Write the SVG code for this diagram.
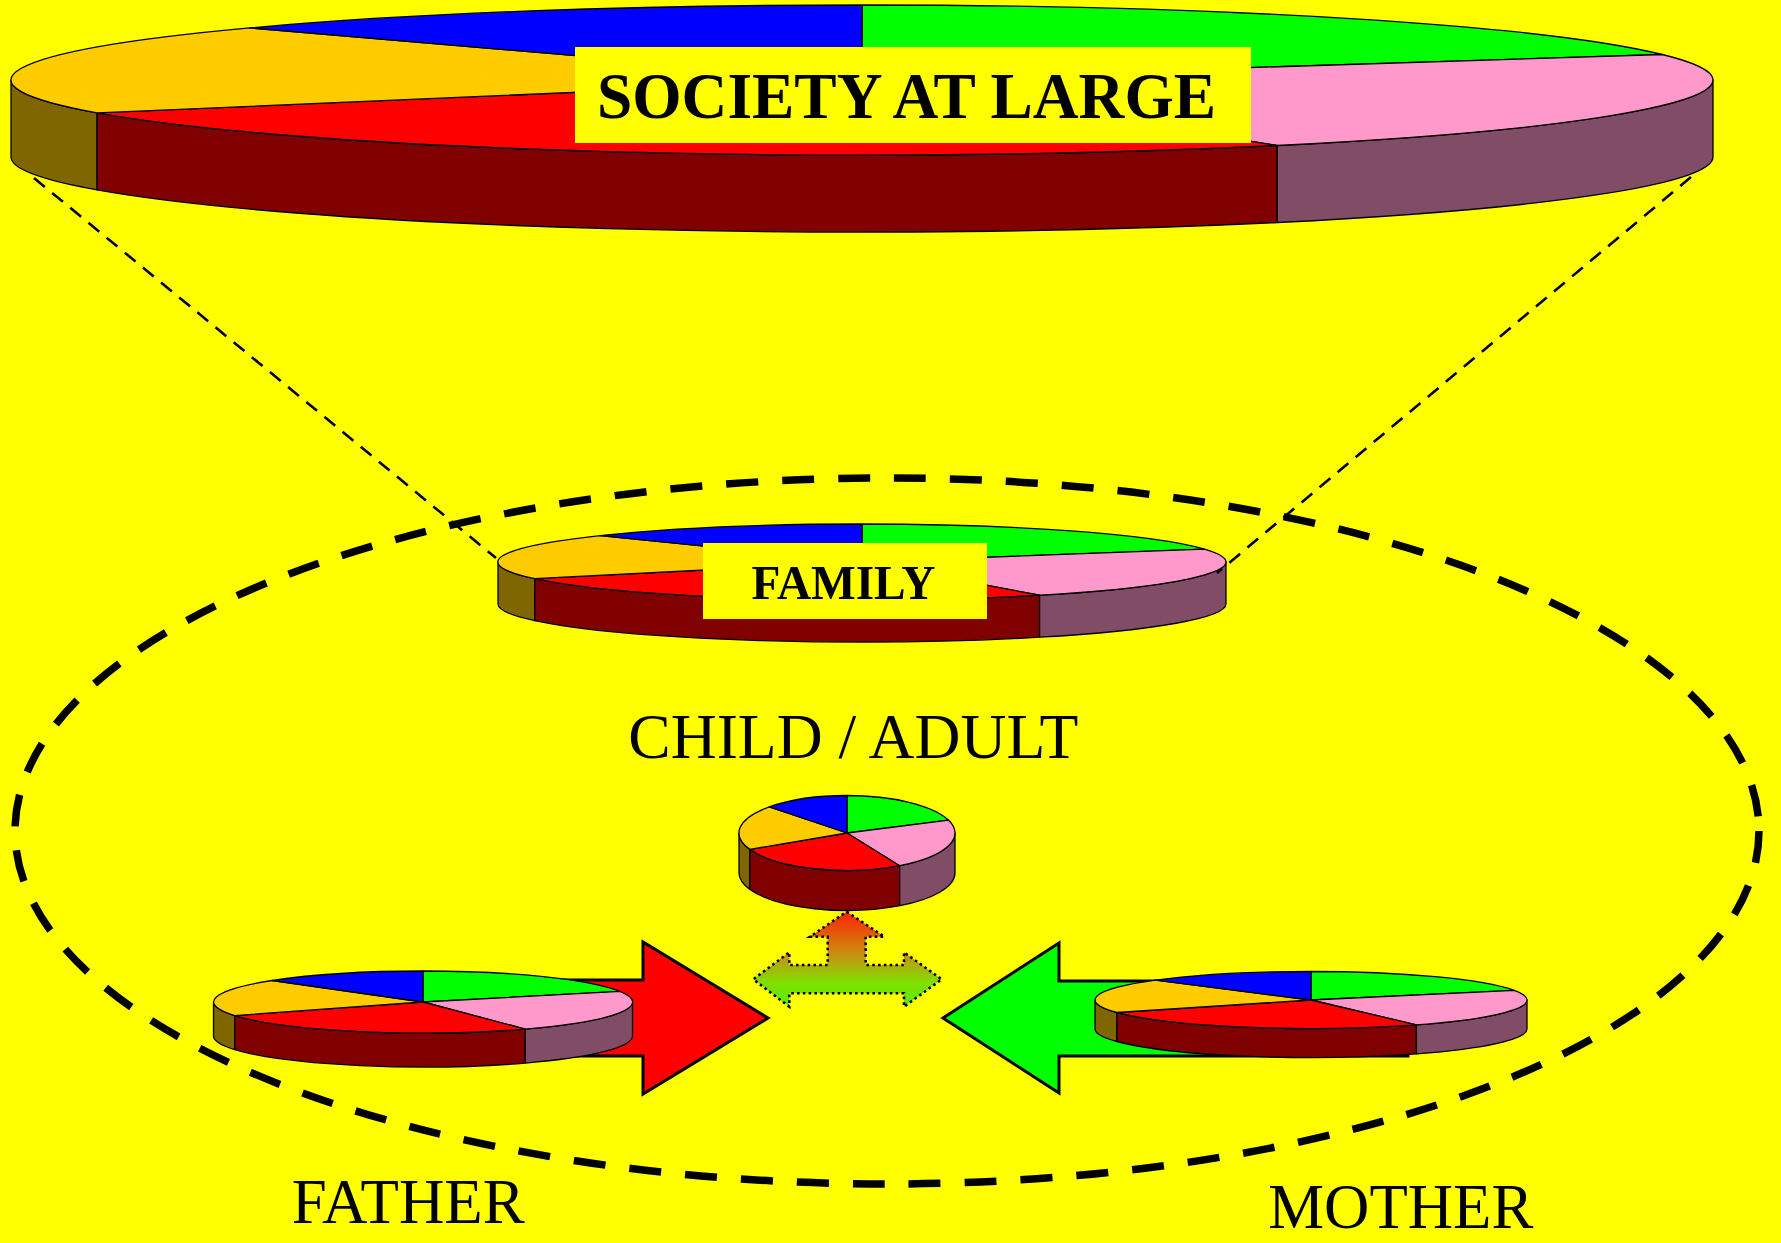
<svg xmlns="http://www.w3.org/2000/svg" width="1781" height="1243" viewBox="0 0 1781 1243">
<style>
.pie path{stroke:#000;stroke-width:1.3;stroke-linejoin:round}
.o{fill:#FFCC00}.b{fill:#0000FF}.g{fill:#00FF00}.p{fill:#FF99CC}.r{fill:#FF0000}
.os{fill:#806600}.rs{fill:#800000}.ps{fill:#804C66}
.lbl{font-family:"Liberation Serif","Times New Roman",serif;fill:#000}
.bold{font-weight:bold}
.thin{fill:none;stroke:#000;stroke-width:2.6;stroke-dasharray:14 9.5}
.bigdash{fill:none;stroke:#000;stroke-width:7.5;stroke-dasharray:32 24}
.arrow{stroke:#000;stroke-width:3;stroke-linejoin:miter}
</style>
<defs>
<linearGradient id="grad3" x1="0" y1="0" x2="0" y2="1">
<stop offset="0" stop-color="#FF2200"/>
<stop offset="0.45" stop-color="#C89010"/>
<stop offset="0.75" stop-color="#80E000"/>
<stop offset="1" stop-color="#55EE00"/>
</linearGradient>
</defs>
<rect width="1781" height="1243" fill="#FFFF00"/>

<g id="family-ellipse">
<ellipse class="bigdash" cx="887" cy="831" rx="872" ry="353"/>
</g>

<g id="society" class="pie">
<path class="os" d="M11,80 A851,75 0 0 0 97.1,112.9 L97.1,189.9 A851,75 0 0 1 11,157 Z"/>
<path class="rs" d="M97.1,112.9 A851,75 0 0 0 1277.2,145.5 L1277.2,222.5 A851,75 0 0 1 97.1,189.9 Z"/>
<path class="ps" d="M1277.2,145.5 A851,75 0 0 0 1713,80 L1713,157 A851,75 0 0 1 1277.2,222.5 Z"/>
<path class="g" d="M862,80 L862,5 A851,75 0 0 1 1662.2,54.5 Z"/>
<path class="p" d="M862,80 L1662.2,54.5 A851,75 0 0 1 1277.2,145.5 Z"/>
<path class="r" d="M862,80 L1277.2,145.5 A851,75 0 0 1 97.1,112.9 Z"/>
<path class="o" d="M862,80 L97.1,112.9 A851,75 0 0 1 249.9,27.9 Z"/>
<path class="b" d="M862,80 L249.9,27.9 A851,75 0 0 1 862,5 Z"/>
<rect x="575" y="47" width="676" height="96" fill="#FFFF00"/>
<text class="lbl bold" x="597" y="118.3" font-size="65" textLength="619" lengthAdjust="spacingAndGlyphs">SOCIETY AT LARGE</text>
</g>

<g id="family" class="pie">
<path class="os" d="M498,562 A364,38 0 0 0 534.8,578.7 L534.8,620.7 A364,38 0 0 1 498,604 Z"/>
<path class="rs" d="M534.8,578.7 A364,38 0 0 0 1039.6,595.2 L1039.6,637.2 A364,38 0 0 1 534.8,620.7 Z"/>
<path class="ps" d="M1039.6,595.2 A364,38 0 0 0 1226,562 L1226,604 A364,38 0 0 1 1039.6,637.2 Z"/>
<path class="g" d="M862,562 L862,524 A364,38 0 0 1 1204.3,549.1 Z"/>
<path class="p" d="M862,562 L1204.3,549.1 A364,38 0 0 1 1039.6,595.2 Z"/>
<path class="r" d="M862,562 L1039.6,595.2 A364,38 0 0 1 534.8,578.7 Z"/>
<path class="o" d="M862,562 L534.8,578.7 A364,38 0 0 1 600.2,535.6 Z"/>
<path class="b" d="M862,562 L600.2,535.6 A364,38 0 0 1 862,524 Z"/>
<rect x="703" y="543" width="284" height="76" fill="#FFFF00"/>
<text class="lbl bold" x="751.5" y="599" font-size="49" textLength="184" lengthAdjust="spacingAndGlyphs">FAMILY</text>
</g>

<g id="connectors">
<line class="thin" x1="34" y1="178" x2="496" y2="558"/>
<line class="thin" x1="1691" y1="177" x2="1217" y2="573"/>
</g>

<g id="child-adult">
<text class="lbl" x="628.3" y="758.3" font-size="63" textLength="450" lengthAdjust="spacingAndGlyphs">CHILD / ADULT</text>
<g class="pie">
<path class="os" d="M739,833 A108,37.5 0 0 0 749.9,849.4 L749.9,889.4 A108,37.5 0 0 1 739,873 Z"/>
<path class="rs" d="M749.9,849.4 A108,37.5 0 0 0 899.7,865.7 L899.7,905.7 A108,37.5 0 0 1 749.9,889.4 Z"/>
<path class="ps" d="M899.7,865.7 A108,37.5 0 0 0 955,833 L955,873 A108,37.5 0 0 1 899.7,905.7 Z"/>
<path class="g" d="M847,833 L847,795.5 A108,37.5 0 0 1 948.6,820.2 Z"/>
<path class="p" d="M847,833 L948.6,820.2 A108,37.5 0 0 1 899.7,865.7 Z"/>
<path class="r" d="M847,833 L899.7,865.7 A108,37.5 0 0 1 749.9,849.4 Z"/>
<path class="o" d="M847,833 L749.9,849.4 A108,37.5 0 0 1 769.3,806.9 Z"/>
<path class="b" d="M847,833 L769.3,806.9 A108,37.5 0 0 1 847,795.5 Z"/>
</g>
</g>

<g id="three-way-arrow">
<path fill="url(#grad3)" stroke="#000" stroke-width="2.6" stroke-dasharray="2.6 3.2" d="M846.7,911.7 L884.3,936.7 L865.7,936.7 L865.7,965 L904,965 L904,952.3 L941.7,979.3 L904,1006.7 L904,993.3 L789.3,993.3 L789.3,1006.7 L753.3,979.3 L789.3,952.3 L789.3,965 L827.7,965 L827.7,936.7 L810,936.7 Z"/>
</g>

<g id="father">
<polygon class="arrow" fill="#FF0000" points="480,980 643,980 643,942 768,1018 643,1094 643,1056 480,1056"/>
<g class="pie">
<path class="os" d="M213.5,1002 A209.5,31 0 0 0 234.7,1015.6 L234.7,1049.6 A209.5,31 0 0 1 213.5,1036 Z"/>
<path class="rs" d="M234.7,1015.6 A209.5,31 0 0 0 525.2,1029.1 L525.2,1063.1 A209.5,31 0 0 1 234.7,1049.6 Z"/>
<path class="ps" d="M525.2,1029.1 A209.5,31 0 0 0 632.5,1002 L632.5,1036 A209.5,31 0 0 1 525.2,1063.1 Z"/>
<path class="g" d="M423,1002 L423,971 A209.5,31 0 0 1 620,991.4 Z"/>
<path class="p" d="M423,1002 L620,991.4 A209.5,31 0 0 1 525.2,1029.1 Z"/>
<path class="r" d="M423,1002 L525.2,1029.1 A209.5,31 0 0 1 234.7,1015.6 Z"/>
<path class="o" d="M423,1002 L234.7,1015.6 A209.5,31 0 0 1 272.3,980.5 Z"/>
<path class="b" d="M423,1002 L272.3,980.5 A209.5,31 0 0 1 423,971 Z"/>
</g>
<text class="lbl" x="291.7" y="1222.7" font-size="63" textLength="233" lengthAdjust="spacingAndGlyphs">FATHER</text>
</g>

<g id="mother">
<polygon class="arrow" fill="#00FF00" points="1408,981 1059,981 1059,943 943,1018 1059,1093 1059,1056 1408,1056"/>
<g class="pie">
<path class="os" d="M1095,1000 A216,28.5 0 0 0 1116.9,1012.5 L1116.9,1041.5 A216,28.5 0 0 1 1095,1029 Z"/>
<path class="rs" d="M1116.9,1012.5 A216,28.5 0 0 0 1416.4,1024.9 L1416.4,1053.9 A216,28.5 0 0 1 1116.9,1041.5 Z"/>
<path class="ps" d="M1416.4,1024.9 A216,28.5 0 0 0 1527,1000 L1527,1029 A216,28.5 0 0 1 1416.4,1053.9 Z"/>
<path class="g" d="M1311,1000 L1311,971.5 A216,28.5 0 0 1 1514.1,990.3 Z"/>
<path class="p" d="M1311,1000 L1514.1,990.3 A216,28.5 0 0 1 1416.4,1024.9 Z"/>
<path class="r" d="M1311,1000 L1416.4,1024.9 A216,28.5 0 0 1 1116.9,1012.5 Z"/>
<path class="o" d="M1311,1000 L1116.9,1012.5 A216,28.5 0 0 1 1155.6,980.2 Z"/>
<path class="b" d="M1311,1000 L1155.6,980.2 A216,28.5 0 0 1 1311,971.5 Z"/>
</g>
<text class="lbl" x="1268.3" y="1228" font-size="63" textLength="265" lengthAdjust="spacingAndGlyphs">MOTHER</text>
</g>
</svg>
